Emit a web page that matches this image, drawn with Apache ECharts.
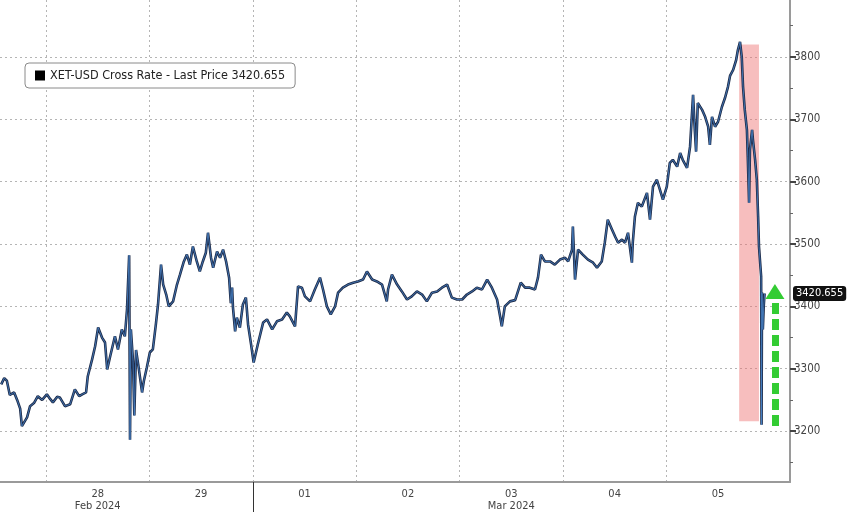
<!DOCTYPE html>
<html>
<head>
<meta charset="utf-8">
<title>XET-USD Cross Rate</title>
<script src="https://cdn.jsdelivr.net/npm/echarts@6/dist/echarts.min.js"></script>
<style>
  html, body { margin: 0; padding: 0; background: #ffffff; }
  #chart { width: 848px; height: 512px; }
</style>
</head>
<body>
<div id="chart"></div>
<script>
// hours since 28 Feb 2024 00:00
var hours = [
  -10.4, -9.7, -9.1, -8.4, -7.4, -6.7, -6.0, -5.6, -4.4, -3.7, -2.8, -1.9, -0.9, 0.2, 0.9, 1.6, 2.6, 3.2, 4.4, 5.6,
  6.7, 7.7, 8.4, 9.3, 9.7, 10.7, 11.4, 12.1, 13.0, 13.7, 14.2, 14.9, 16.0, 16.7, 17.6, 18.3, 18.8, 19.3, 19.5, 19.7,
  20.2, 20.5, 20.9, 21.4, 22.3, 22.7, 23.4, 24.1, 24.8, 25.5, 26.0, 26.7, 27.2, 27.9, 28.5, 29.5, 30.4, 31.1, 32.0, 32.7,
  33.4, 34.1, 35.0, 35.7, 36.4, 37.1, 37.6, 38.3, 38.8, 39.7, 40.4, 41.1, 41.8, 42.5, 42.9, 43.2, 43.4, 43.9, 44.3, 45.0,
  45.7, 46.4, 46.9, 47.6, 48.2, 49.2, 50.4, 51.3, 52.5, 53.6, 54.8, 55.9, 56.6, 57.8, 58.5, 59.4, 60.1, 61.3, 62.4, 63.6,
  64.3, 65.2, 66.1, 67.1, 67.8, 68.9, 70.1, 71.3, 72.4, 73.6, 74.5, 75.7, 76.8, 78.0, 79.1, 79.4, 80.3, 81.5, 82.6, 83.8,
  84.9, 86.1, 87.3, 88.4, 89.6, 90.8, 91.9, 93.1, 94.2, 95.4, 96.6, 97.7, 98.9, 100.0, 101.2, 102.4, 103.5, 104.7, 105.4, 105.8,
  106.5, 107.7, 108.9, 110.2, 111.2, 112.3, 113.5, 114.2, 114.9, 115.8, 117.0, 118.1, 119.3, 120.5, 121.2, 122.1, 122.3, 122.8, 123.5, 124.6,
  125.8, 127.0, 127.9, 129.0, 129.7, 130.4, 131.4, 132.1, 132.8, 133.7, 134.4, 135.1, 136.0, 136.2, 136.7, 137.4, 138.3, 139.5, 140.2, 140.9,
  141.8, 142.5, 143.2, 144.1, 144.8, 145.5, 146.5, 147.2, 147.8, 148.8, 149.5, 150.2, 150.6, 150.9, 151.3, 152.3, 153.0, 153.7, 154.1, 154.6,
  155.3, 156.0, 156.9, 157.6, 158.3, 158.8, 159.5, 160.2, 160.6, 161.1, 161.5, 161.8, 162.2, 162.7, 162.9, 163.2, 163.4, 163.9, 164.1, 164.6,
  165.0, 165.3, 165.5, 166.0, 166.1, 166.2, 166.4, 166.6, 166.8
];
var prices = [
  3275, 3285, 3281, 3258, 3262, 3250, 3236, 3208, 3222, 3240, 3245, 3256, 3250, 3259, 3252, 3246, 3255, 3254, 3240, 3243,
  3267, 3256, 3259, 3262, 3288, 3315, 3336, 3366, 3350, 3342, 3299, 3320, 3352, 3331, 3363, 3352, 3395, 3482, 3186, 3363,
  3312, 3225, 3330, 3307, 3262, 3280, 3302, 3326, 3331, 3371, 3403, 3467, 3435, 3419, 3400, 3408, 3435, 3451, 3472, 3483,
  3467, 3496, 3472, 3456, 3472, 3486, 3518, 3478, 3462, 3488, 3478, 3491, 3472, 3446, 3405, 3430, 3398, 3360, 3382, 3366,
  3403, 3414, 3371, 3339, 3310, 3340, 3374, 3379, 3363, 3376, 3379, 3390, 3384, 3368, 3432, 3430, 3416, 3408, 3427, 3446,
  3427, 3400, 3387, 3400, 3422, 3430, 3435, 3438, 3440, 3443, 3456, 3443, 3440, 3435, 3408, 3427, 3451, 3435, 3424, 3411,
  3416, 3424, 3419, 3408, 3422, 3424, 3430, 3435, 3414, 3411, 3411, 3419, 3424, 3430, 3427, 3443, 3430, 3411, 3384, 3368,
  3400, 3408, 3410, 3438, 3430, 3430, 3427, 3446, 3483, 3472, 3472, 3467, 3475, 3478, 3472, 3491, 3528, 3443, 3491, 3483,
  3475, 3470, 3462, 3472, 3502, 3539, 3523, 3512, 3502, 3507, 3502, 3518, 3470, 3502, 3544, 3566, 3560, 3582, 3539, 3592,
  3603, 3587, 3571, 3592, 3630, 3635, 3624, 3646, 3635, 3622, 3656, 3739, 3683, 3648, 3726, 3715, 3704, 3688, 3659, 3704,
  3688, 3696, 3720, 3734, 3752, 3770, 3779, 3795, 3811, 3824, 3800, 3752, 3715, 3683, 3640, 3566, 3651, 3683, 3667, 3635,
  3603, 3544, 3496, 3448, 3210, 3422, 3363, 3400, 3420.655
];
var lastPrice = 3420.655;
var seriesName = 'XET-USD Cross Rate - Last Price 3420.655';

var dayBounds = [0, 24, 48, 72, 96, 120, 144];
var dayLabelHours = [12, 36, 60, 84, 108, 132, 156];
var dayLabels = ['28', '29', '01', '02', '03', '04', '05'];
var monthLabels = ['Feb 2024', '', '', '', 'Mar 2024', '', ''];
var monthStart = [48];
var priceTicks = [3200, 3300, 3400, 3500, 3600, 3700, 3800];
var priceMinorTicks = [3150, 3250, 3350, 3450, 3550, 3650, 3750, 3850];

// annotations: shaded sell-off window and the green rebound arrow
var bandHours = [160.9, 165.5];
var bandPrices = [3216, 3820];
var arrowHour = 169.2;
var arrowPrices = [3208, 3424];

var lineData = hours.map(function (h, i) { return [h, prices[i]]; });

var chart = echarts.init(document.getElementById('chart'));

var option = {
  animation: false,
  backgroundColor: '#ffffff',
  grid: {left: 0, right: 58, top: 0, bottom: 29},
  legend: {
    data: [seriesName],
    left: 25,
    top: 63,
    padding: [6, 10, 6, 10],
    borderColor: '#8a8a8a',
    borderWidth: 1,
    borderRadius: 4,
    backgroundColor: '#ffffff',
    icon: 'rect',
    itemWidth: 10,
    itemHeight: 10,
    itemGap: 4,
    selectedMode: false,
    textStyle: {color: '#222', fontSize: 12.5, fontFamily: 'DejaVu Sans Condensed, DejaVu Sans'}
  },
  xAxis: [
    {
      type: 'value',
      min: -10.68,
      max: 172.7,
      axisLine: {onZero: false, lineStyle: {color: '#9a9a9a', width: 2}},
      axisTick: {show: false, customValues: dayBounds},
      splitLine: {show: true, lineStyle: {color: '#b5b5b5', type: [2, 3], width: 1}},
      axisLabel: {
        customValues: dayLabelHours,
        color: '#444',
        fontSize: 11,
        lineHeight: 12,
        margin: 6,
        fontFamily: 'DejaVu Sans Condensed, DejaVu Sans',
        formatter: function (v) {
          var i = dayLabelHours.indexOf(Math.round(v));
          if (i < 0) return '';
          return monthLabels[i] ? dayLabels[i] + '\n' + monthLabels[i] : dayLabels[i];
        }
      }
    },
    {
      type: 'value',
      min: -10.68,
      max: 172.7,
      position: 'bottom',
      axisLine: {show: false, onZero: false},
      axisLabel: {show: false},
      splitLine: {show: false},
      axisTick: {show: true, customValues: monthStart, length: 30, lineStyle: {color: '#333', width: 1}}
    }
  ],
  yAxis: [
    {
      type: 'value',
      position: 'right',
      min: 3118.4,
      max: 3891.2,
      axisLine: {show: true, onZero: false, lineStyle: {color: '#9a9a9a', width: 2}},
      axisTick: {show: true, customValues: priceTicks, length: 6, lineStyle: {color: '#444', width: 2}},
      splitLine: {show: true, lineStyle: {color: '#b5b5b5', type: [2, 3], width: 1}},
      axisLabel: {
        customValues: priceTicks,
        color: '#444',
        fontSize: 11.5,
        margin: 4,
        fontFamily: 'DejaVu Sans Condensed, DejaVu Sans',
        formatter: function (v) { return String(Math.round(v)); }
      },
      axisPointer: {
        show: true,
        status: 'show',
        value: lastPrice,
        triggerTooltip: false,
        lineStyle: {opacity: 0},
        label: {
          show: true,
          backgroundColor: '#111',
          color: '#fff',
          fontSize: 11,
          padding: [2, 3, 2, 3],
          margin: 3,
          fontFamily: 'DejaVu Sans Condensed, DejaVu Sans',
          formatter: function () { return lastPrice.toFixed(3); }
        }
      }
    },
    {
      type: 'value',
      position: 'right',
      min: 3118.4,
      max: 3891.2,
      axisLine: {show: false, onZero: false},
      axisLabel: {show: false},
      splitLine: {show: false},
      axisTick: {show: true, customValues: priceMinorTicks, length: 3, lineStyle: {color: '#666', width: 1}}
    }
  ],
  series: [
    {
      name: seriesName,
      type: 'line',
      data: lineData,
      showSymbol: false,
      itemStyle: {color: '#000'},
      lineStyle: {color: '#1d2a47', width: 2.6},
      z: 3
    },
    {
      name: 'highlight',
      type: 'line',
      data: lineData,
      showSymbol: false,
      lineStyle: {color: '#4a86cc', width: 0.9, opacity: 0.85},
      z: 4
    },
    {
      name: 'band',
      type: 'line',
      data: [],
      z: 5,
      markArea: {
        silent: true,
        itemStyle: {color: 'rgba(238, 110, 110, 0.45)'},
        data: [[
          {coord: [bandHours[0], bandPrices[0]]},
          {coord: [bandHours[1], bandPrices[1]]}
        ]]
      }
    },
    {
      name: 'arrow',
      type: 'line',
      data: [],
      z: 6,
      markLine: {
        silent: true,
        symbol: ['none', 'triangle'],
        symbolSize: [19, 15],
        label: {show: false},
        lineStyle: {color: '#33cc33', width: 7, type: [11, 5]},
        data: [[
          {coord: [arrowHour, arrowPrices[0]]},
          {coord: [arrowHour, arrowPrices[1]]}
        ]]
      }
    }
  ]
};

chart.setOption(option);
</script>
</body>
</html>
